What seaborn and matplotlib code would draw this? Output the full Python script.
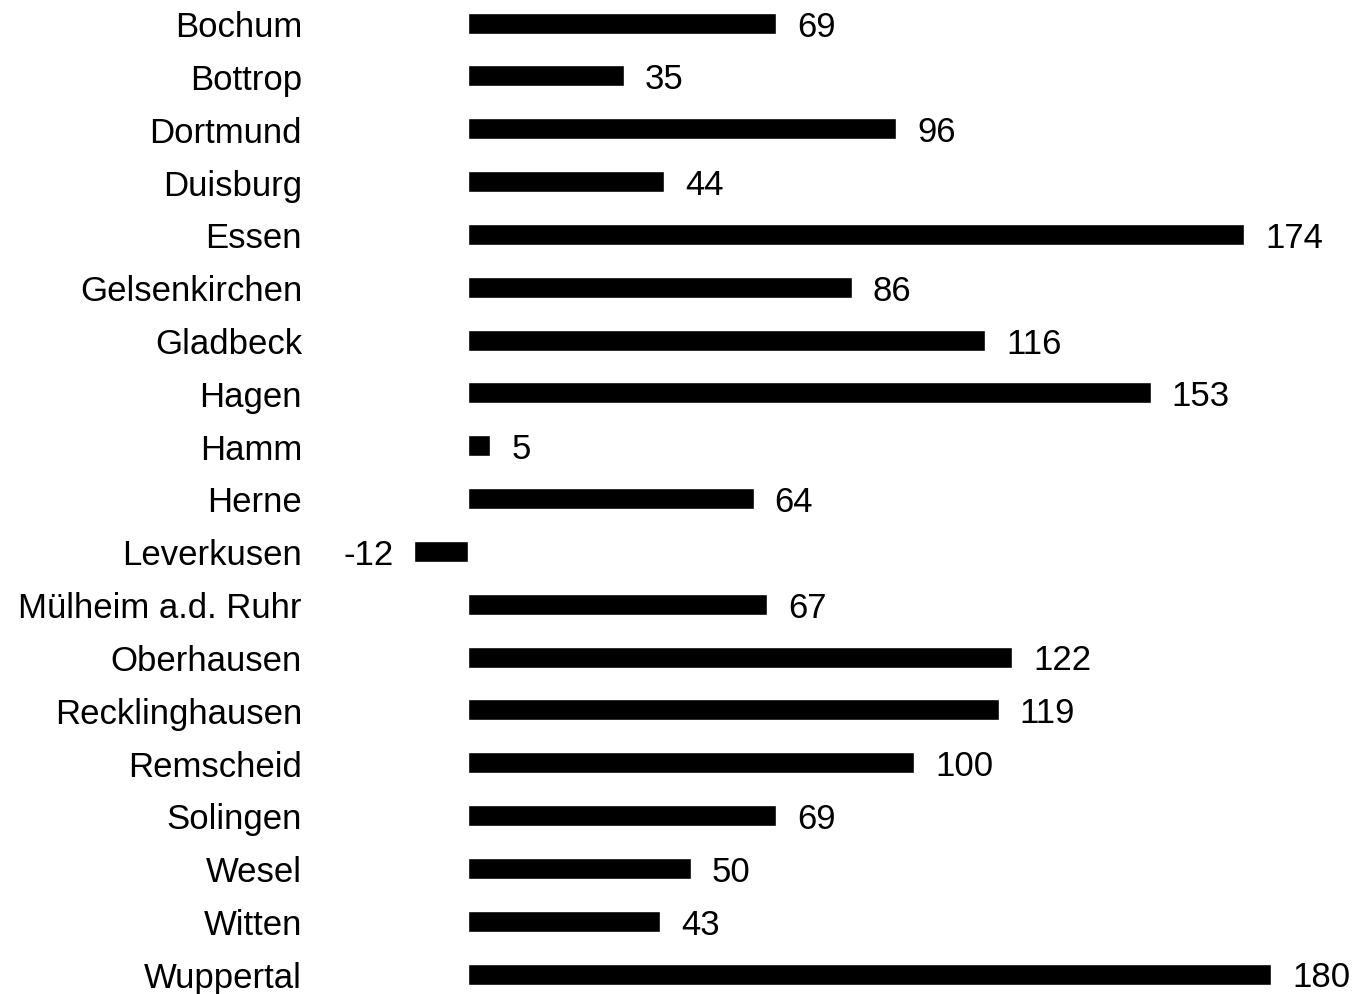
import matplotlib
matplotlib.use("Agg")
import matplotlib.pyplot as plt
import seaborn as sns
import pandas as pd

cities = ["Bochum", "Bottrop", "Dortmund", "Duisburg", "Essen", "Gelsenkirchen",
          "Gladbeck", "Hagen", "Hamm", "Herne", "Leverkusen", "Mülheim a.d. Ruhr",
          "Oberhausen", "Recklinghausen", "Remscheid", "Solingen", "Wesel", "Witten",
          "Wuppertal"]
values = [69, 35, 96, 44, 174, 86, 116, 153, 5, 64, -12, 67, 122, 119, 100, 69, 50, 43, 180]

df = pd.DataFrame({"city": cities, "value": values})

sns.set_theme(style="white")
plt.rcParams["font.family"] = ["Liberation Sans", "DejaVu Sans"]

W, H = 1354, 995
fig = plt.figure(figsize=(W / 100, H / 100), dpi=100)
PT = 72.0 / 100.0  # points per pixel

# pixel geometry
x0_px = 468.0
ppu = (1271.0 - 468.0) / 180.0
ax_left_px = 400.0
ax_right_px = 1354.0
row0_px = 24.0
row_sp = (975.0 - 24.0) / 18.0

ax = fig.add_axes([ax_left_px / W, 0, (ax_right_px - ax_left_px) / W, 1])
sns.barplot(data=df, x="value", y="city", orient="h", color="black",
            saturation=1, width=21 / row_sp, ax=ax)

ax.set_xlim(-(x0_px - ax_left_px) / ppu, (ax_right_px - x0_px) / ppu)
ax.set_ylim(18 + (H - 975.0) / row_sp, -row0_px / row_sp)

for c in ax.containers:
    texts = ax.bar_label(c, labels=[str(v) for v in values], padding=21 * PT,
                         fontsize=25, color="black")
    for t in texts:
        dx, dy = t.xyann
        t.xyann = (dx, -3 * PT)

ax.set_xlabel("")
ax.set_ylabel("")
ax.set_xticks([])
ax.tick_params(axis="y", length=0, pad=(ax_left_px - 302) * PT, labelsize=25,
               labelcolor="black")
for s in ax.spines.values():
    s.set_visible(False)

fig.savefig("out.png", dpi=100, facecolor="white")
